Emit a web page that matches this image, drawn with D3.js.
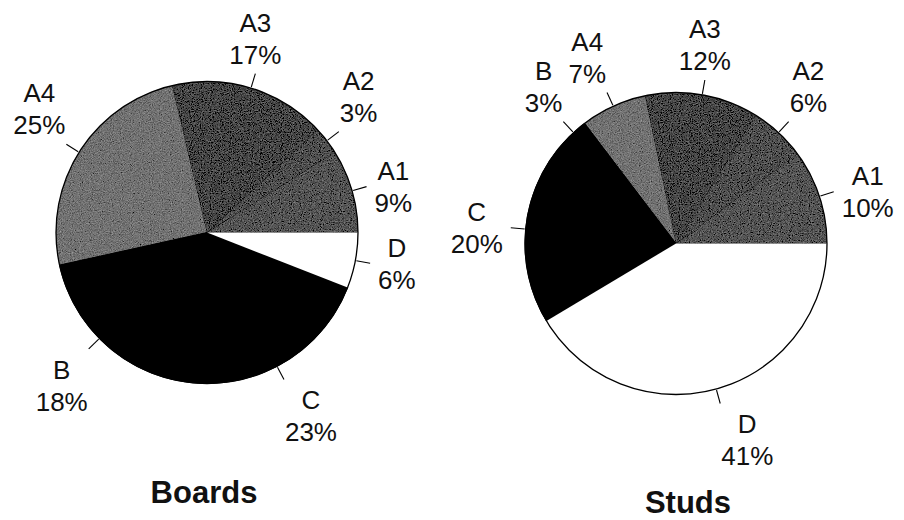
<!DOCTYPE html>
<html>
<head>
<meta charset="utf-8">
<script src="https://cdn.jsdelivr.net/npm/d3@7"></script>
<style>
  html, body { margin: 0; padding: 0; background: #fff; }
  svg { display: block; }
  text { font-family: "Liberation Sans", Arial, Helvetica, sans-serif; }
</style>
</head>
<body>
<script>
// Share of each grade, in percent, for boards and studs
const categories = ["A1", "A2", "A3", "A4", "B", "C", "D"];
const boardsValues = [9, 3, 17, 25, 18, 23, 6];
const studsValues = [10, 6, 12, 7, 3, 20, 41];
const panelTitles = ["Boards", "Studs"];

const W = 904, H = 520;
const R = 151;
const fontSize = 26;
const lineGap = 32;
const capH = 0.72 * fontSize;

// Grey shades for the A grades, solid black for B and C, white for D
const fill = d3.scaleOrdinal()
  .domain(categories)
  .range(["#555555", "#505050", "#474747", "#727272", "#000000", "#000000", "#ffffff"]);
const grainy = new Set(["A1", "A2", "A3", "A4"]);

const svg = d3.select("body").append("svg")
  .attr("width", W).attr("height", H);

// Halftone-like grain for the grey slices
const defs = svg.append("defs");
const filt = defs.append("filter").attr("id", "grain")
  .attr("x", "0").attr("y", "0").attr("width", "1").attr("height", "1");
filt.append("feTurbulence").attr("type", "fractalNoise")
  .attr("baseFrequency", "0.9").attr("numOctaves", 2).attr("seed", 7).attr("result", "noise");
filt.append("feColorMatrix").attr("in", "noise").attr("type", "matrix")
  .attr("values", "0.33 0.33 0.33 0 0  0.33 0.33 0.33 0 0  0.33 0.33 0.33 0 0  0 0 0 0 1")
  .attr("result", "grey");
filt.append("feComposite").attr("in", "SourceGraphic").attr("in2", "grey")
  .attr("operator", "arithmetic").attr("k1", 0).attr("k2", 1).attr("k3", 0.7).attr("k4", -0.35)
  .attr("result", "mix");
filt.append("feComposite").attr("in", "mix").attr("in2", "SourceAlpha").attr("operator", "in");

const panels = [
  { title: panelTitles[0], values: boardsValues, cx: 207, cy: 232.5, tx: 204, ty: 503 },
  { title: panelTitles[1], values: studsValues, cx: 676, cy: 243.5, tx: 688, ty: 513 }
];

// Slices run counter-clockwise from three o'clock
const pie = d3.pie()
  .sort(null)
  .value(d => d.value)
  .startAngle(Math.PI / 2)
  .endAngle(Math.PI / 2 - 2 * Math.PI);

const arc = d3.arc().innerRadius(0).outerRadius(R);

panels.forEach(p => {
  const rows = categories.map((c, i) => ({ cat: c, value: p.values[i] }));
  const g = svg.append("g").attr("transform", `translate(${p.cx},${p.cy})`);
  const arcs = pie(rows);

  // dark underlay so slice seams do not show through
  g.append("circle").attr("r", R - 0.5).attr("fill", "#000");

  g.selectAll("path.slice")
    .data(arcs)
    .join("path")
    .attr("class", "slice")
    .attr("d", arc)
    .attr("fill", d => fill(d.data.cat))
    .attr("filter", d => grainy.has(d.data.cat) ? "url(#grain)" : null)
    .attr("stroke", d => d.data.cat === "B" || d.data.cat === "C" ? "#000" : "none")
    .attr("stroke-width", 1);

  g.append("circle")
    .attr("r", R)
    .attr("fill", "none")
    .attr("stroke", "#000")
    .attr("stroke-width", 1.3);

  arcs.forEach(d => {
    const m = (d.startAngle + d.endAngle) / 2;
    const ux = Math.sin(m), uy = -Math.cos(m);

    // leader tick
    g.append("line")
      .attr("x1", ux * (R + 1)).attr("y1", uy * (R + 1))
      .attr("x2", ux * (R + 15)).attr("y2", uy * (R + 15))
      .attr("stroke", "#000").attr("stroke-width", 1.1);

    const ex = ux * (R + 15), ey = uy * (R + 15);
    const lines = [d.data.cat, d.data.value + "%"];
    const lab = g.append("g");
    const texts = lines.map(t => lab.append("text")
      .attr("font-size", fontSize)
      .attr("fill", "#111")
      .attr("text-anchor", "middle")
      .text(t));
    const w = d3.max(texts, t => t.node().getComputedTextLength());
    const h = lineGap + capH;

    let bx, b1;
    if (Math.abs(uy) < 0.5) {
      // beside the pie: block vertically centred on the tick
      bx = ex + Math.sign(ux) * (8 + w / 2);
      b1 = ey - h / 2 + capH;
    } else {
      if (uy < 0) b1 = ey - 10 - lineGap;
      else b1 = ey + 11 + capH;
      const centred = uy < 0 && Math.abs(ux) < 0.35;
      bx = centred ? ex : ex + Math.sign(ux) * (w / 2 + 1);
    }
    texts.forEach((t, i) => t.attr("x", bx).attr("y", b1 + i * lineGap));
  });

  svg.append("text")
    .attr("x", p.tx).attr("y", p.ty)
    .attr("text-anchor", "middle")
    .attr("font-size", 31)
    .attr("font-weight", "bold")
    .attr("fill", "#111")
    .text(p.title);
});
</script>
</body>
</html>
